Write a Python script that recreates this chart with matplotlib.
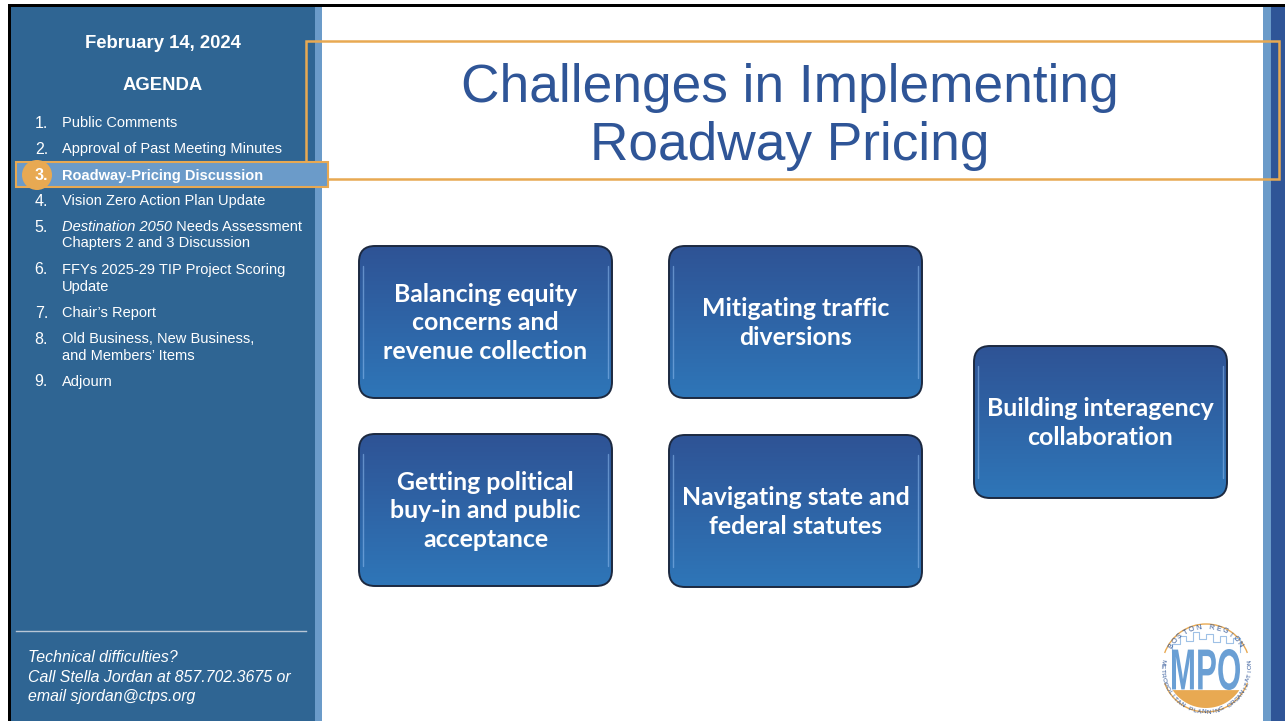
import numpy as np
import matplotlib
matplotlib.use("Agg")
import matplotlib.pyplot as plt
from matplotlib.patches import FancyBboxPatch, Rectangle, Circle, Arc, Polygon, PathPatch
from matplotlib.colors import LinearSegmentedColormap
from matplotlib.textpath import TextPath
from matplotlib.font_manager import FontProperties
from matplotlib.transforms import Affine2D

# slide content
meeting_date = "February 14, 2024"
agenda_nums = ["1.", "2.", "3.", "4.", "5.", "6.", "7.", "8.", "9."]
agenda_items = [
    "Public Comments",
    "Approval of Past Meeting Minutes",
    "Roadway-Pricing Discussion",
    "Vision Zero Action Plan Update",
    " Needs Assessment\nChapters 2 and 3 Discussion",
    "FFYs 2025-29 TIP Project Scoring\nUpdate",
    "Chair\u2019s Report",
    "Old Business, New Business,\nand Members\u2019 Items",
    "Adjourn",
]
italic_lead = {4: "Destination 2050"}
agenda_y = [122, 148, 175, 200, 226, 269, 312, 338, 381]
current_item = 2
help_text = ["Technical difficulties?",
             "Call Stella Jordan at 857.702.3675 or",
             "email sjordan@ctps.org"]
title = "Challenges in Implementing\nRoadway Pricing"
challenges = [
    "Balancing equity\nconcerns and\nrevenue collection",
    "Mitigating traffic\ndiversions",
    "Getting political\nbuy-in and public\nacceptance",
    "Navigating state and\nfederal statutes",
    "Building interagency\ncollaboration",
]
box_xy = [(359, 246), (669, 246), (359, 434), (669, 435), (974, 346)]

SIDEBAR = "#2f6593"
LIGHT = "#6b9bc9"
DARK_R = "#2f5597"
ORANGE = "#e8a952"
TITLE_C = "#2f5597"

W, H = 1285, 721
fig = plt.figure(figsize=(W / 100, H / 100), dpi=100)
ax = fig.add_axes([0, 0, 1, 1])
ax.set_xlim(0, W)
ax.set_ylim(H, 0)
ax.axis("off")

# frame and sidebars
ax.add_patch(Rectangle((8, 4), W - 8, H, facecolor="black", lw=0))
ax.add_patch(Rectangle((11, 7), W - 11, H, facecolor="white", lw=0))
ax.add_patch(Rectangle((11, 7), 304, H, facecolor=SIDEBAR, lw=0))
ax.add_patch(Rectangle((315, 7), 7, H, facecolor=LIGHT, lw=0))
ax.add_patch(Rectangle((1263, 7), 8, H, facecolor=LIGHT, lw=0))
ax.add_patch(Rectangle((1271, 7), 14, H, facecolor=DARK_R, lw=0))

sans = "Liberation Sans"
ax.text(163, 44, meeting_date, color="white", fontsize=13.3, fontweight="bold",
        family=sans, ha="center", va="center")
ax.text(163, 86, "AGENDA", color="white", fontsize=13.3, fontweight="bold",
        family=sans, ha="center", va="center")

# title outline and current-item highlight
ax.add_patch(Rectangle((306, 41), 973, 138, facecolor="none", edgecolor=ORANGE, lw=1.8))
ax.add_patch(Rectangle((16, 162), 312, 25, facecolor=LIGHT, edgecolor=ORANGE, lw=1.5, zorder=3))
ax.add_patch(Circle((37, 175), 15, facecolor=ORANGE, lw=0, zorder=4))

for i, (num, item, y) in enumerate(zip(agenda_nums, agenda_items, agenda_y)):
    bold = "bold" if i == current_item else "normal"
    ax.text(48, y + 1, num, color="white", fontsize=11.5, family=sans, fontweight=bold,
            ha="right", va="center", zorder=5)
    if i in italic_lead:
        lead = ax.text(62, y - 6, italic_lead[i], color="white", fontsize=10.5,
                       family=sans, style="italic", ha="left", va="top", zorder=5)
        first, rest = item.split("\n", 1)
        ax.annotate(first, xy=(1, 1), xycoords=lead, va="top", ha="left",
                    color="white", fontsize=10.5, family=sans, zorder=5)
        ax.text(62, y + 10, rest, color="white", fontsize=10.5, family=sans,
                ha="left", va="top", zorder=5)
    else:
        ax.text(62, y - 6, item, color="white", fontsize=10.5, family=sans, fontweight=bold,
                ha="left", va="top", linespacing=1.25, zorder=5)

ax.plot([16, 306], [631, 631], color="#b8c6d6", lw=1)
for k, line in enumerate(help_text):
    ax.text(28, 658 + 19 * k, line, color="white", fontsize=11.4, style="italic",
            family=sans, ha="left", va="center")

ax.text(790, 117, title, color=TITLE_C, fontsize=38.3, family=sans,
        ha="center", va="center", linespacing=1.23)

# challenge boxes with vertical gradient
cmap = LinearSegmentedColormap.from_list("bx", ["#2e5395", "#2f76b8"])
grad = np.linspace(0, 1, 256).reshape(-1, 1)
bw, bh = 253, 152
for (x0, y0), label in zip(box_xy, challenges):
    box = FancyBboxPatch((x0, y0), bw, bh, boxstyle="round,pad=0,rounding_size=16",
                         facecolor="none", edgecolor="#1c2940", lw=1.4, zorder=4)
    ax.add_patch(box)
    im = ax.imshow(grad, cmap=cmap, extent=(x0, x0 + bw, y0 + bh, y0),
                   aspect="auto", zorder=2)
    im.set_clip_path(box)
    for xs in (x0 + 4, x0 + bw - 4):
        ax.plot([xs, xs], [y0 + 20, y0 + bh - 20], color="#8dbcf0", lw=1.0,
                alpha=0.55, zorder=3, solid_capstyle="round")
    ax.text(x0 + bw / 2, y0 + bh / 2 + 1, label, color="white", fontsize=17.9,
            fontweight="bold", family="Lato", ha="center", va="center",
            linespacing=1.3, zorder=5)

# MPO logo
cx, cy, r = 1206, 668, 44
ax.add_patch(Arc((cx, cy), 2 * r, 2 * r, theta1=200, theta2=340, color=ORANGE, lw=1.0, zorder=3))
ax.add_patch(Arc((cx, cy), 2 * r, 2 * r, theta1=20, theta2=160, color=ORANGE, lw=1.0, zorder=3))
# bowl under the letters
chord = 690
t = np.linspace(0, np.pi, 60)
br = 40
bx = cx + br * np.cos(t)
by = cy + br * np.sin(t)
keep = by >= chord
ax.add_patch(Polygon(np.column_stack([bx[keep], by[keep]]), closed=True,
                     facecolor=ORANGE, lw=0, zorder=3))
# skyline outline
sky_x = [1172, 1172, 1180, 1180, 1186, 1186, 1193, 1193, 1199, 1199, 1206, 1206,
         1213, 1213, 1220, 1220, 1226, 1226, 1233, 1233, 1240, 1240]
sky_y = [652, 644, 644, 636, 636, 641, 641, 632, 632, 639, 639, 634,
         634, 642, 642, 636, 636, 643, 643, 638, 638, 652]
ax.plot(sky_x, sky_y, color="#9fc1e6", lw=0.8, zorder=3)
# condensed MPO letters
tp = TextPath((0, 0), "MPO", size=50, prop=FontProperties(family=sans, weight="bold"))
ext = tp.get_extents()
sx = 68 / ext.width
sy = 41 / ext.height
tr = Affine2D().translate(-ext.x0, -ext.y0).scale(sx, -sy).translate(cx - 34, 690)
ax.add_patch(PathPatch(tr.transform_path(tp), facecolor="#6a9fd4", lw=0, zorder=4))
for txt, rr, a0, a1, sgn in [("BOSTON REGION", 41, 148, 35, 1),
                              ("METROPOLITAN PLANNING ORGANIZATION", 44, 172, 368, -1)]:
    angs = np.linspace(a0, a1, len(txt))
    for ch, a in zip(txt, angs):
        th = np.deg2rad(a)
        rot = a - 90 if sgn > 0 else a + 90
        ax.text(cx + rr * np.cos(th), cy - rr * np.sin(th), ch, color="#2f5597",
                fontsize=5.2 if sgn > 0 else 4.6, family=sans, ha="center", va="center",
                rotation=rot, zorder=4)

fig.savefig("out.png", dpi=100)
